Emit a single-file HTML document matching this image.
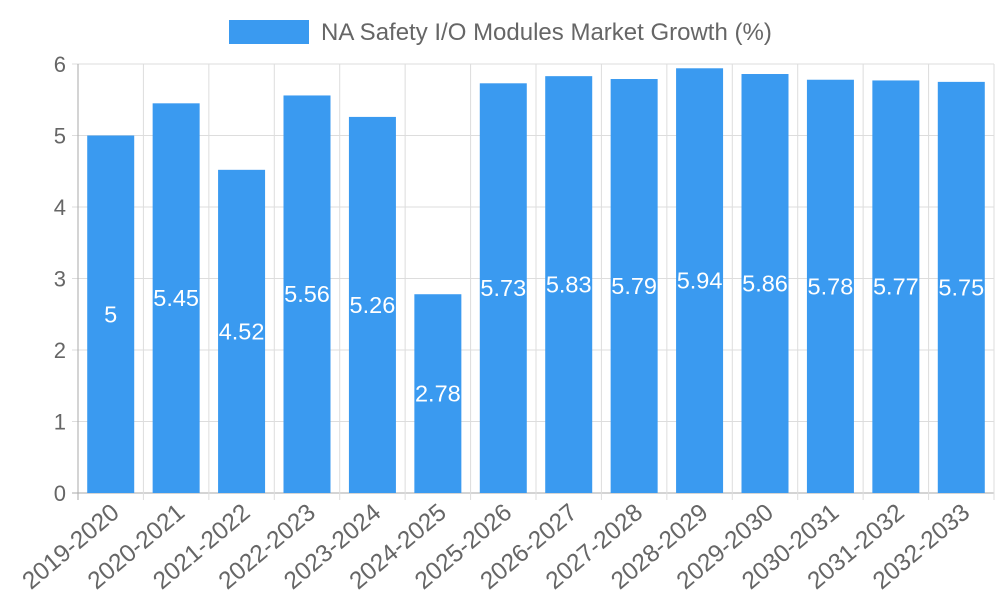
<!DOCTYPE html>
<html><head><meta charset="utf-8"><style>
body{margin:0;background:#fff;font-family:"Liberation Sans",sans-serif}
svg text{font-family:"Liberation Sans",sans-serif}
</style></head><body>
<svg id="c" width="1000" height="600">
<g id="legend">
<rect x="229" y="20" width="80" height="24" fill="#3a9af0"/>
<text x="321" y="40" font-size="24" fill="#666">NA Safety I/O Modules Market Growth (%)</text>
</g>
<g id="grid"></g>
<g id="bars"></g>
<g id="axes"></g>
</svg>
<script>
const categories=["2019-2020","2020-2021","2021-2022","2022-2023","2023-2024","2024-2025","2025-2026","2026-2027","2027-2028","2028-2029","2029-2030","2030-2031","2031-2032","2032-2033"];
const values=[5,5.45,4.52,5.56,5.26,2.78,5.73,5.83,5.79,5.94,5.86,5.78,5.77,5.75];
const yTicks=[0,1,2,3,4,5,6];
const NS="http://www.w3.org/2000/svg";
const L=78,R=994,T=64,B=493,yMax=6;
const bw=(R-L)/categories.length;
const y=v=>B-(v/yMax)*(B-T);
const x=i=>L+bw*i;
function mk(t,a,p){const e=document.createElementNS(NS,t);for(const k in a)e.setAttribute(k,a[k]);p.appendChild(e);return e;}
const grid=document.getElementById('grid'),bars=document.getElementById('bars'),axes=document.getElementById('axes');
yTicks.forEach(t=>{
 const g=mk('line',{x1:L-6,x2:R,y1:y(t),y2:y(t),stroke:t===0?'#aaa':'#ddd','stroke-width':1},grid);
 
 
 const tx=mk('text',{x:L-12,y:y(t)+8,'text-anchor':'end','font-size':22,fill:'#666'},axes);
 tx.textContent=t;
 
 
});
for(let i=0;i<=categories.length;i++){
 const g=mk('line',{x1:x(i),x2:x(i),y1:T,y2:B+7,stroke:i===0?'#aaa':'#ddd','stroke-width':1},grid);
 
 
}
categories.forEach((c,i)=>{
 const cx=x(i)+bw/2,w=47,v=values[i];
 const r=mk('rect',{x:cx-w/2,y:y(v),width:w,height:B-y(v),fill:'#3a9af0'},bars);
 
 
 const lb=mk('text',{x:cx,y:(y(v)+B)/2+8,'text-anchor':'middle','font-size':23.5,fill:'#fff'},bars);
 lb.textContent=v;
 
 
 const ax=cx+10,ay=B+22;
 const xl=mk('text',{x:ax,y:ay,'text-anchor':'end','font-size':24.5,fill:'#666',transform:`rotate(-40 ${ax} ${ay})`},axes);
 xl.textContent=c;
 
 
});
</script>
</body></html>
